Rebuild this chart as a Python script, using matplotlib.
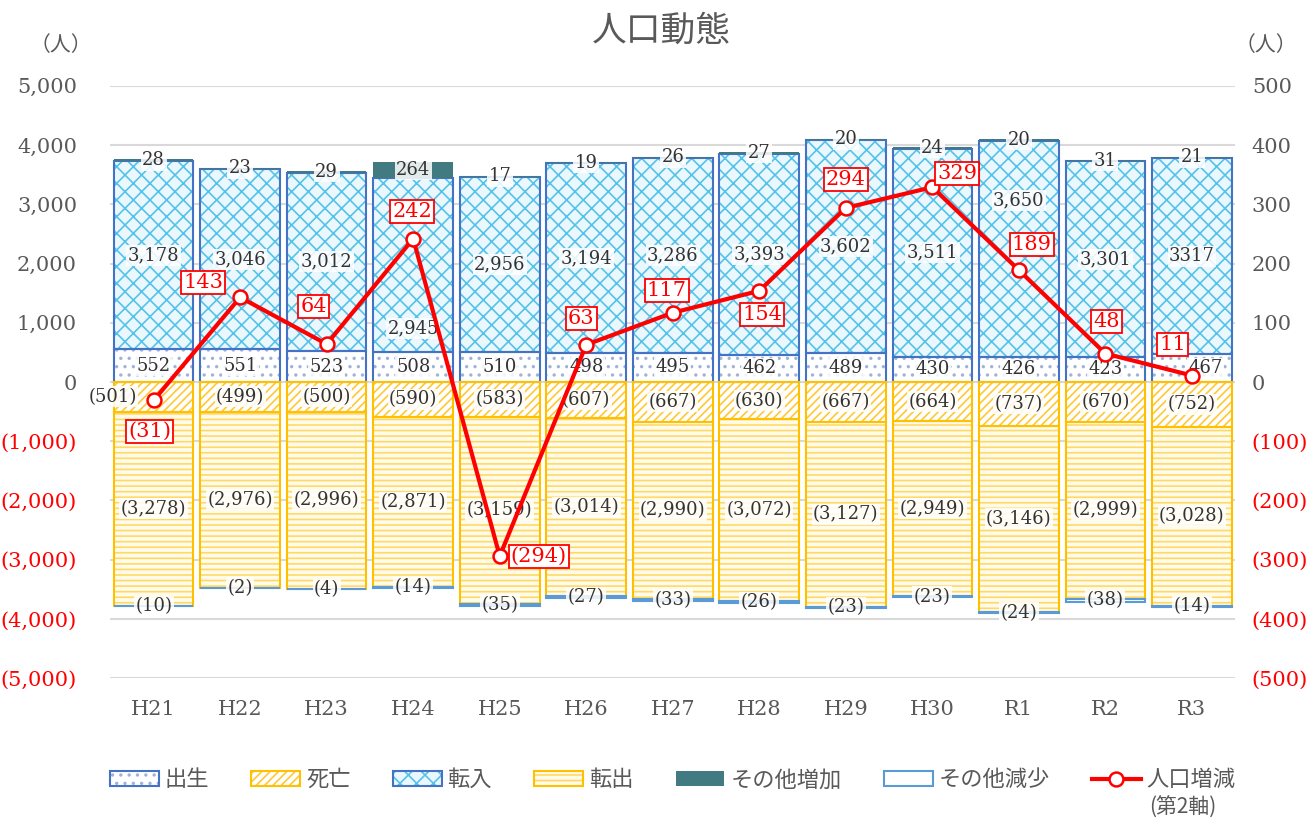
import numpy as np
import matplotlib.pyplot as plt
from matplotlib.patches import Patch
from matplotlib.lines import Line2D
from matplotlib.ticker import FuncFormatter

# データ
years = ['H21', 'H22', 'H23', 'H24', 'H25', 'H26', 'H27', 'H28', 'H29', 'H30', 'R1', 'R2', 'R3']
birth = [552, 551, 523, 508, 510, 498, 495, 462, 489, 430, 426, 423, 467]
move_in = [3178, 3046, 3012, 2945, 2956, 3194, 3286, 3393, 3602, 3511, 3650, 3301, 3317]
other_up = [28, 23, 29, 264, 17, 19, 26, 27, 20, 24, 20, 31, 21]
death = [501, 499, 500, 590, 583, 607, 667, 630, 667, 664, 737, 670, 752]
move_out = [3278, 2976, 2996, 2871, 3159, 3014, 2990, 3072, 3127, 2949, 3146, 2999, 3028]
other_down = [10, 2, 4, 14, 35, 27, 33, 26, 23, 23, 24, 38, 14]
change = [-31, 143, 64, 242, -294, 63, 117, 154, 294, 329, 189, 48, 11]

# 線グラフのラベル位置 (pixel)
chg_off = [(-4, -31), (-37, 15), (-13, 38), (-1, 27), (39, 0), (-5, 26), (-6, 22),
           (3, -24), (0, 28), (25, 14), (13, 26), (1, 32), (-19, 31)]

FONT = ['DejaVu Serif', 'Noto Sans CJK JP']
JP = ['Noto Sans CJK JP', 'DejaVu Sans']
GRAY = '#595959'
BLUE = '#4472C4'
GOLD = '#FFC000'

plt.rcParams['font.family'] = FONT
plt.rcParams['hatch.linewidth'] = 1.2

fig = plt.figure(figsize=(13.14, 8.26), dpi=100)
ax = fig.add_axes([0.084, 0.179, 0.856, 0.717])
ax2 = ax.twinx()

x = np.arange(len(years))
w = 0.92
b = np.array(birth)
mi = np.array(move_in)
ou = np.array(other_up)
d = np.array(death)
mo = np.array(move_out)
od = np.array(other_down)


def hbar(bottom, h, face, hcol, hatch, edge, lw=1.5):
    ax.bar(x, h, w, bottom=bottom, color=face, edgecolor=hcol, hatch=hatch, linewidth=0, zorder=2)
    ax.bar(x, h, w, bottom=bottom, fill=False, edgecolor=edge, linewidth=lw, zorder=3)


hbar(0, b, 'white', '#9FB3D9', '..', BLUE)
hbar(b, mi, '#EAF8FD', '#55C2EA', 'xx', BLUE)
ax.bar(x, ou, w, bottom=b + mi, color='#427A82', linewidth=0, zorder=3)
hbar(0, -d, 'white', '#FFC933', '////', GOLD)
hbar(-d, -mo, '#FFFBEA', '#FFD966', '---', GOLD)
ax.bar(x, -od, w, bottom=-d - mo, color='white', edgecolor='#5B9BD5', linewidth=1.5, zorder=3)

box = dict(facecolor='white', alpha=0.85, edgecolor='none', pad=1)
lab = dict(ha='center', va='center', fontsize=13, color='#333333', bbox=box, zorder=5, textcoords='offset pixels')
for i in range(len(years)):
    ax.annotate(f'{birth[i]:,}', (x[i], birth[i] / 2), xytext=(14 if i == 12 else 0, 0), **lab)
    t = f'{move_in[i]:,}' if i != 12 else str(move_in[i])
    dy = {3: -64, 10: 48}.get(i, 0)
    ax.annotate(t, (x[i], birth[i] + move_in[i] / 2), xytext=(0, dy), **lab)
    ax.annotate(f'{other_up[i]:,}', (x[i], birth[i] + move_in[i] + other_up[i] / 2), xytext=(0, 0), **lab)
    ax.annotate(f'({death[i]:,})', (x[i], -death[i] / 2), xytext=(-41 if i == 0 else 0, 0), **lab)
    ax.annotate(f'({move_out[i]:,})', (x[i], -death[i] - move_out[i] / 2), xytext=(0, 0), **lab)
    ax.annotate(f'({other_down[i]:,})', (x[i], -death[i] - move_out[i] - other_down[i] / 2),
                xytext=(0, 0), **lab)

ax2.plot(x, change, color='red', lw=3, marker='o', ms=10, mfc='white', mec='red', mew=1.8, zorder=6)
for i, v in enumerate(change):
    t = f'{v:,}' if v >= 0 else f'({-v:,})'
    ax2.annotate(t, (x[i], v), xytext=chg_off[i], textcoords='offset pixels', ha='center', va='center',
                 fontsize=15, color='red', zorder=7,
                 bbox=dict(facecolor='white', edgecolor='red', linewidth=1.3, pad=1.5))

ax.set_xlim(-0.5, len(years) - 0.5)
ax.set_ylim(-5000, 5000)
ax2.set_ylim(-500, 500)
ax.set_yticks(np.arange(-5000, 5001, 1000))
ax2.set_yticks(np.arange(-500, 501, 100))
ax.grid(axis='y', color='#D9D9D9', lw=1.5, zorder=0)
ax.set_axisbelow(True)


def fmt(v, pos):
    v = int(round(v))
    return f'{v:,}' if v >= 0 else f'({-v:,})'


ax.yaxis.set_major_formatter(FuncFormatter(fmt))
ax2.yaxis.set_major_formatter(FuncFormatter(fmt))
ax.set_xticks(x)
ax.set_xticklabels(years)
for a in (ax, ax2):
    for s in a.spines.values():
        s.set_visible(False)
    a.tick_params(length=0, labelsize=15, colors=GRAY)
ax.tick_params(axis='y', pad=24)
ax.tick_params(axis='x', pad=16)
ax2.tick_params(axis='y', pad=12)
fig.canvas.draw()
for a in (ax, ax2):
    for tl in a.get_yticklabels():
        if '(' in tl.get_text():
            tl.set_color('red')

fig.text(0.503, 0.962, '人口動態', ha='center', va='center', fontsize=25, color=GRAY, family=JP)
fig.text(0.046, 0.945, '（人）', ha='center', va='center', fontsize=15, color=GRAY, family=JP)
fig.text(0.963, 0.945, '（人）', ha='center', va='center', fontsize=15, color=GRAY, family=JP)

handles = [
    (Patch(facecolor='white', edgecolor='#9FB3D9', hatch='..', lw=0), Patch(fill=False, edgecolor=BLUE, lw=1.5)),
    (Patch(facecolor='white', edgecolor='#FFC933', hatch='////', lw=0), Patch(fill=False, edgecolor=GOLD, lw=1.5)),
    (Patch(facecolor='#EAF8FD', edgecolor='#55C2EA', hatch='xx', lw=0), Patch(fill=False, edgecolor=BLUE, lw=1.5)),
    (Patch(facecolor='#FFFBEA', edgecolor='#FFD966', hatch='---', lw=0), Patch(fill=False, edgecolor=GOLD, lw=1.5)),
    Patch(facecolor='#427A82', lw=0),
    Patch(facecolor='white', edgecolor='#5B9BD5', lw=1.5),
    Line2D([], [], color='red', lw=3, marker='o', ms=10, mfc='white', mec='red', mew=1.8),
]
labels = ['出生', '死亡', '転入', '転出', 'その他増加', 'その他減少', '人口増減']
leg = fig.legend(handles, labels, loc='center', bbox_to_anchor=(0.512, 0.056), ncol=7, frameon=False,
                 prop={'family': JP, 'size': 16}, handlelength=2.2, handleheight=0.65, columnspacing=1.9,
                 handletextpad=0.26)
for t in leg.get_texts():
    t.set_color(GRAY)
fig.canvas.draw()
last = leg.get_texts()[-1].get_window_extent()
fig.text(last.x0 / fig.bbox.width + 0.002, 0.022, '(第2軸)', ha='left', va='center',
         fontsize=15, color=GRAY, family=JP)

fig.savefig('out.png', dpi=100)
